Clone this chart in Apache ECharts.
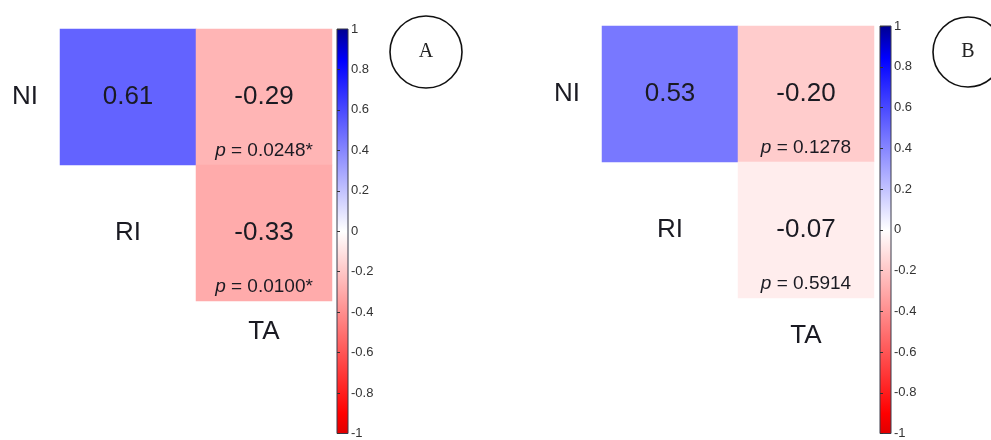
<!DOCTYPE html>
<html>
<head>
<meta charset="utf-8">
<script src="https://cdn.jsdelivr.net/npm/echarts@6/dist/echarts.min.js"></script>
<style>html,body{margin:0;padding:0;background:#fff;}#c{width:991px;height:440px;}</style>
</head>
<body>
<div id="c"></div>
<script>
// ---- data ----
const rowLabels = ['NI', 'RI'];          // y categories (top to bottom)
const colLabels = ['RI', 'TA'];          // x categories
const cellCols = ['RI', 'TA', 'TA'];     // column of each cell
const cellRows = ['NI', 'NI', 'RI'];     // row of each cell
const rA = [0.61, -0.29, -0.33];
const pA = [null, '0.0248*', '0.0100*'];
const rB = [0.53, -0.20, -0.07];
const pB = [null, '0.1278', '0.5914'];
const diagLabels = ['RI'];               // diagonal label cells
const cbMin = -1, cbMax = 1, cbStep = 0.2;
const panelNames = ['A', 'B'];

// ---- layout ----
const panels = [
  { grid: { left: 60, top: 29, width: 272, height: 272 }, cb: { left: 337, top: 29, width: 11, height: 408 }, xMargin: 18, circle: [426, 52, 36] },
  { grid: { left: 602, top: 26, width: 272, height: 272 }, cb: { left: 880, top: 26, width: 11, height: 409 }, xMargin: 25, circle: [968, 52, 35] }
];
const rs = [rA, rB], ps = [pA, pB];

const grid = [], xAxis = [], yAxis = [], series = [], graphic = [];
const txt = '#1a1a22';
const ff = 'Liberation Sans, Arial';
panels.forEach((P, k) => {
  const gi = grid.length;
  grid.push(Object.assign({}, P.grid));
  xAxis.push({ type: 'category', data: colLabels, gridIndex: gi, position: 'bottom',
    axisLine: { show: false }, axisTick: { show: false }, splitLine: { show: false },
    axisLabel: { interval: (i) => i > 0, margin: P.xMargin, fontSize: 26, color: txt, fontFamily: ff } });
  yAxis.push({ type: 'category', data: rowLabels, gridIndex: gi, inverse: true,
    axisLine: { show: false }, axisTick: { show: false }, splitLine: { show: false },
    axisLabel: { interval: (i) => i < rowLabels.length - 1, margin: 22, fontSize: 26, color: txt, fontFamily: ff } });
  series.push({ type: 'heatmap', xAxisIndex: gi, yAxisIndex: gi,
    data: rs[k].map((v, i) => [cellCols[i], cellRows[i], v]),
    itemStyle: { borderWidth: 0 },
    label: { show: true, formatter: (p) => p.value[2].toFixed(2), fontSize: 26, color: txt, fontFamily: ff },
    emphasis: { disabled: true } });
  series.push({ type: 'scatter', xAxisIndex: gi, yAxisIndex: gi, symbolSize: 0, silent: true,
    itemStyle: { opacity: 1 },
    data: ps[k].map((p, i) => p ? { value: [cellCols[i], cellRows[i]], pv: p } : null).filter(Boolean),
    label: { show: true, position: 'inside', offset: [0, 54],
      formatter: (d) => '{i|p} = ' + d.data.pv,
      fontSize: 19, color: txt, fontFamily: ff,
      rich: { i: { fontStyle: 'italic', fontSize: 19, color: txt, fontFamily: ff } } } });
  series.push({ type: 'scatter', xAxisIndex: gi, yAxisIndex: gi, symbolSize: 0, silent: true,
    itemStyle: { opacity: 1 },
    data: diagLabels.map(d => ({ value: [d, d], name: d })),
    label: { show: true, position: 'inside', formatter: (d) => d.name, fontSize: 26, color: txt, fontFamily: ff } });

  // colorbar
  const ci = grid.length;
  grid.push(Object.assign({ show: true, borderColor: '#3a3a4a', borderWidth: 1,
    backgroundColor: new echarts.graphic.LinearGradient(0, 0, 0, 1, [
      { offset: 0, color: '#00008f' }, { offset: 0.08, color: '#0000ff' },
      { offset: 0.5, color: '#ffffff' }, { offset: 0.95, color: '#ff0000' }, { offset: 1, color: '#e00000' }]) }, P.cb));
  xAxis.push({ type: 'value', gridIndex: ci, show: false, min: 0, max: 1 });
  yAxis.push({ type: 'value', gridIndex: ci, position: 'right', min: cbMin, max: cbMax, interval: cbStep,
    axisLine: { show: false }, splitLine: { show: false },
    axisTick: { show: true, length: 3, lineStyle: { color: '#333' } },
    axisLabel: { margin: 3, fontSize: 13, color: '#333', fontFamily: ff,
      formatter: (v) => String(Math.round(v * 10) / 10) } });

  graphic.push({ type: 'circle', shape: { cx: P.circle[0], cy: P.circle[1], r: P.circle[2] },
    style: { fill: 'none', stroke: '#111', lineWidth: 1.6 } });
  graphic.push({ type: 'text', x: P.circle[0], y: P.circle[1],
    style: { text: panelNames[k], font: '20px "Liberation Serif", "Times New Roman", serif', fill: '#222', align: 'center', verticalAlign: 'middle' } });
});

const chart = echarts.init(document.getElementById('c'), null, { renderer: 'canvas' });
chart.setOption({
  animation: false,
  backgroundColor: '#ffffff',
  grid, xAxis, yAxis, series, graphic,
  visualMap: { type: 'continuous', show: false, min: cbMin, max: cbMax, seriesIndex: [0, 3],
    inRange: { color: ['#ff0000', '#ffffff', '#0000ff'] } }
});
</script>
</body>
</html>
